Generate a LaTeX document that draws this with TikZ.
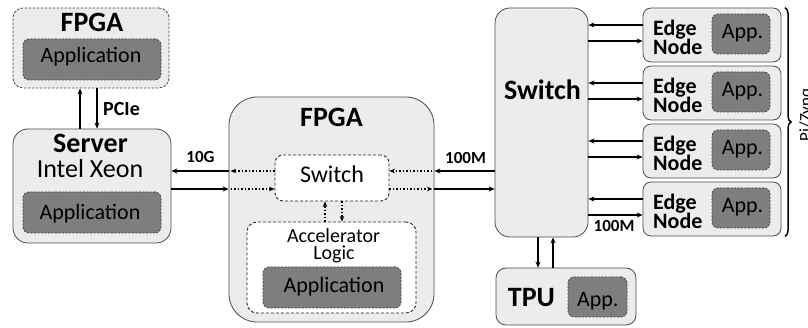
\documentclass[tikz,border=0pt]{standalone}
\usepackage{fontspec}
\setmainfont{Carlito}
\usetikzlibrary{arrows.meta,decorations.pathreplacing}
\definecolor{lightfill}{HTML}{ECECEC}
\definecolor{darkfill}{HTML}{7E7E7E}
\definecolor{edgecol}{HTML}{4A4A4A}
\begin{document}
\begin{tikzpicture}[x=1pt,y=-1pt,
  lbox/.style={draw=edgecol,fill=lightfill,line width=0.8pt,inner sep=0,rounded corners=#1},
  lbox/.default=12pt,
  dbox/.style={draw=edgecol,fill=lightfill,line width=0.8pt,inner sep=0,rounded corners=10pt,dash pattern=on 2.5pt off 1.5pt},
  wbox/.style={draw=black!85,fill=white,line width=0.9pt,inner sep=0,rounded corners=#1,dash pattern=on 3pt off 2pt},
  wbox/.default=8pt,
  appbox/.style={draw=black!75,fill=darkfill,line width=0.8pt,inner sep=0,rounded corners=6pt,dash pattern=on 2pt off 1.5pt},
  txt/.style={inner sep=0,anchor=base},
  ttl/.style={txt,font=\fontsize{28}{30}\selectfont\bfseries},
  apptxt/.style={txt,font=\fontsize{22}{24}\selectfont},
  edgetxt/.style={inner sep=0,anchor=base west,font=\fontsize{22}{24}\selectfont\bfseries},
  lbl/.style={txt,font=\fontsize{17}{19}\selectfont\bfseries},
  arr/.style={line width=1.7pt,-{Stealth[length=6pt,width=5pt]}},
  darr/.style={line width=1.5pt,dash pattern=on 1.5pt off 2pt,-{Stealth[length=5.5pt,width=4.5pt]}}
]
\useasboundingbox (0,0) rectangle (808,328);

% top FPGA
\node[dbox,minimum width=156pt,minimum height=80pt] (fpgatop) at (91,48) {};
\node[ttl] (fpgatopt) at (92,32) {FPGA};
\node[appbox,minimum width=138pt,minimum height=41pt] (app1) at (92,59.5) {};
\node[apptxt] (app1t) at (91,63) {Application};

% server
\node[lbox=15pt,minimum width=158pt,minimum height=114pt] (server) at (92,186) {};
\node[ttl] (servert) at (90.5,153) {Server};
\node[txt,font=\fontsize{26}{28}\selectfont] (xeon) at (90,178) {Intel Xeon};
\node[appbox,minimum width=138pt,minimum height=41pt] (app2) at (92,212.5) {};
\node[apptxt] (app2t) at (90,220) {Application};

% PCIe
\draw[arr] (server.north -| 80,0) -- (fpgatop.south -| 80,0);
\draw[arr] (fpgatop.south -| 97,0) -- (server.north -| 97,0);
\node[txt,anchor=base west,font=\fontsize{20}{22}\selectfont\bfseries] (pcie) at (103,116) {PCIe};

% central FPGA
\node[lbox=28pt,minimum width=205pt,minimum height=225pt] (fpga) at (331.5,209.5) {};
\node[ttl] (fpgat) at (331.5,127) {FPGA};
\node[wbox,minimum width=114pt,minimum height=46pt] (isw) at (332,178) {};
\node[txt,font=\fontsize{24}{26}\selectfont] (iswt) at (332,183) {Switch};
\node[wbox=10pt,minimum width=169pt,minimum height=91pt] (accel) at (331.5,267.5) {};
\node[txt,font=\fontsize{20}{22}\selectfont] (accelt) at (333.5,243) {Accelerator};
\node[txt,font=\fontsize{20}{22}\selectfont] (logict) at (334,260) {Logic};
\node[appbox,minimum width=138pt,minimum height=41pt] (app3) at (332,287.5) {};
\node[apptxt] (app3t) at (334,293) {Application};

\draw[darr] (accel.north -| 325,0) -- (isw.south -| 325,0);
\draw[darr] (isw.south -| 342,0) -- (accel.north -| 342,0);

% big switch
\node[lbox=15pt,minimum width=93pt,minimum height=229pt] (bsw) at (541.5,122.5) {};
\node[ttl] (bswt) at (542.5,100) {Switch};

% TPU
\node[lbox=10pt,minimum width=140pt,minimum height=57pt] (tpu) at (566,296.5) {};
\node[ttl] (tput) at (531.5,307) {TPU};
\node[appbox,minimum width=59pt,minimum height=40pt] (app5) at (597.5,297) {};
\node[apptxt] (app5t) at (597.8,307) {App.};
\draw[arr] (bsw.south -| 538,0) -- (tpu.north -| 538,0);
\draw[arr] (tpu.north -| 553,0) -- (bsw.south -| 553,0);

% 10G links
\draw[arr] (fpga.west |- 0,171) -- (server.east |- 0,171);
\draw[arr] (server.east |- 0,189) -- (fpga.west |- 0,189);
\draw[darr] (isw.west |- 0,171) -- ([xshift=2pt]fpga.west |- 0,171);
\draw[darr] ([xshift=2pt]fpga.west |- 0,189) -- (isw.west |- 0,189);
\node[lbl] (l10g) at (200.5,163) {10G};

% 100M links
\draw[arr] (bsw.west |- 0,171) -- (fpga.east |- 0,171);
\draw[arr] (fpga.east |- 0,189) -- (bsw.west |- 0,189);
\draw[darr] ([xshift=-2pt]fpga.east |- 0,171) -- (isw.east |- 0,171);
\draw[darr] (isw.east |- 0,189) -- ([xshift=-2pt]fpga.east |- 0,189);
\node[lbl] (l100a) at (465.5,164) {100M};

% edge nodes
\foreach \i/\yc in {1/35,2/93,3/151,4/209}{
  \node[lbox=8pt,minimum width=138pt,minimum height=54pt] (edge\i) at (712,\yc) {};
  \node[edgetxt] (edge\i e) at (653,\yc+0.5) {Edge};
  \node[edgetxt] (edge\i n) at (653,\yc+19.5) {Node};
  \node[appbox,minimum width=58pt,minimum height=40pt] (eapp\i) at (741,\yc-1) {};
  \node[apptxt] (eapp\i t) at (742.5,\yc+3.5) {App.};
  \draw[arr] (edge\i.west |- 0,\yc-10) -- (bsw.east |- 0,\yc-10);
  \draw[arr] (bsw.east |- 0,\yc+6) -- (edge\i.west |- 0,\yc+6);
}
\node[lbl] (l100b) at (614,232) {100M};

% brace
\draw[decorate,decoration={brace,amplitude=6pt},line width=1.5pt]
  (edge1.north east -| 785,0) -- (edge4.south east -| 785,0);
\node[rotate=90,anchor=north,inner sep=0,font=\fontsize{17}{19}\selectfont] (pizynq) at (799,115) {Pi/Zynq};
\end{tikzpicture}
\end{document}
